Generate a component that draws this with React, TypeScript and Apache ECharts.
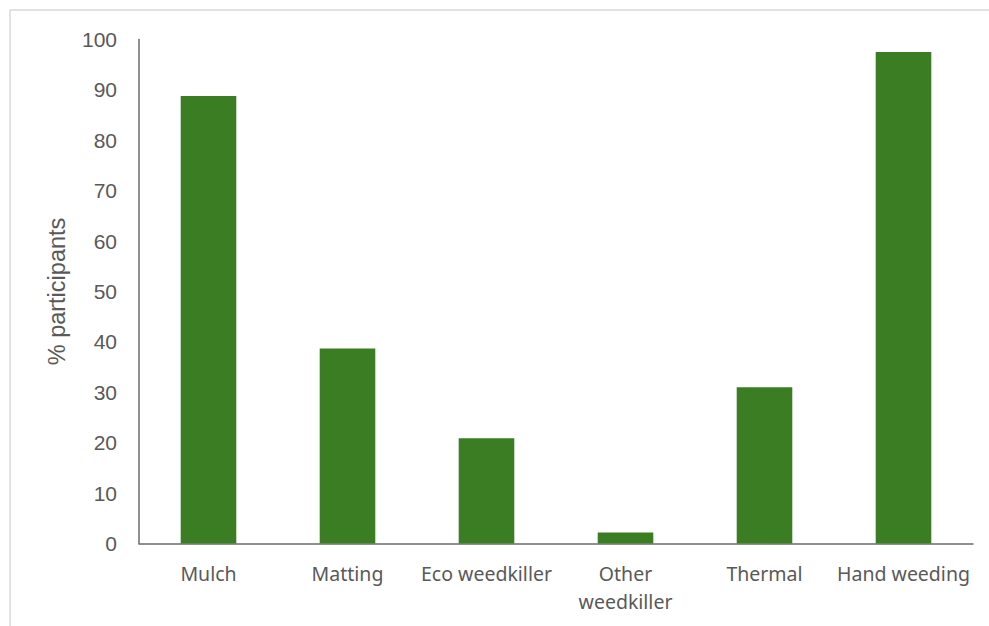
import React, { useEffect, useRef } from "react";
import * as echarts from "echarts";

// Weed control methods used by participants (%)
const categories: string[] = [
  "Mulch",
  "Matting",
  "Eco weedkiller",
  "Other\nweedkiller",
  "Thermal",
  "Hand weeding",
];
const participantShare: number[] = [88.8, 38.7, 20.9, 2.2, 31.0, 97.5];
const yTicks = { min: 0, max: 100, step: 10 };
const yAxisTitle = "% participants";

const BAR_COLOR = "#3B7D23";
const AXIS_COLOR = "#6b6b6b";
const TEXT_COLOR = "#595959";

export default function App() {
  const ref = useRef<HTMLDivElement>(null);

  useEffect(() => {
    if (!ref.current) return;
    const chart = echarts.init(ref.current, null, { renderer: "svg" });
    chart.setOption({
      animation: false,
      backgroundColor: "#ffffff",
      grid: { left: 139, right: 16, top: 39.5, bottom: 82.5, containLabel: false },
      graphic: [
        {
          type: "rect",
          shape: { x: 10, y: 10, width: 1200, height: 900 },
          style: { fill: "none", stroke: "#d9d9d9", lineWidth: 1.5 },
          silent: true,
        },
      ],
      xAxis: {
        type: "category",
        data: categories,
        axisLine: { show: true, lineStyle: { color: AXIS_COLOR, width: 1.5 } },
        axisTick: { show: false },
        axisLabel: {
          color: TEXT_COLOR,
          fontFamily: "Noto Sans",
          fontSize: 19.5,
          lineHeight: 28,
          margin: 16,
          interval: 0,
        },
      },
      yAxis: {
        type: "value",
        min: yTicks.min,
        max: yTicks.max,
        interval: yTicks.step,
        name: yAxisTitle,
        nameLocation: "middle",
        nameGap: 70,
        nameRotate: 90,
        nameTextStyle: {
          color: TEXT_COLOR,
          fontFamily: "Liberation Sans",
          fontSize: 23.5,
        },
        axisLine: { show: true, lineStyle: { color: AXIS_COLOR, width: 1.5 } },
        axisTick: { show: false },
        splitLine: { show: false },
        axisLabel: {
          color: TEXT_COLOR,
          fontFamily: "Liberation Sans",
          fontSize: 21,
          margin: 22,
        },
      },
      series: [
        {
          type: "bar",
          data: participantShare,
          barWidth: "40%",
          itemStyle: { color: BAR_COLOR },
        },
      ],
    });
    return () => chart.dispose();
  }, []);

  return (
    <div
      ref={ref}
      style={{ position: "absolute", left: 0, top: 0, width: 989, height: 626 }}
    />
  );
}
